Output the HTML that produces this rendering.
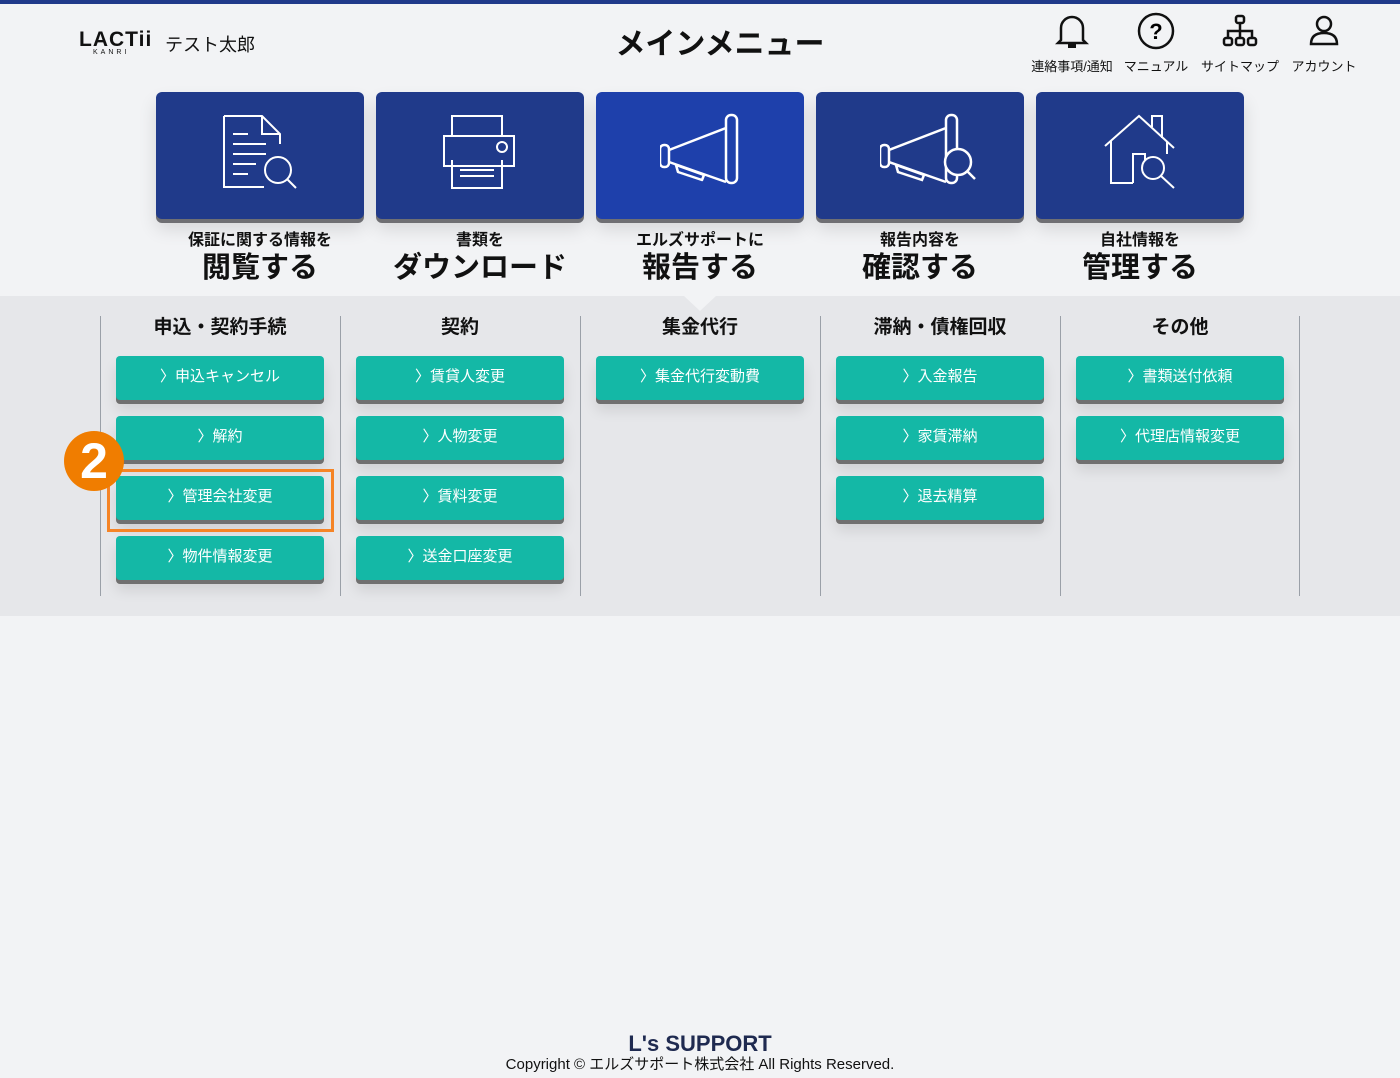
<!DOCTYPE html>
<html><head><meta charset="utf-8"><style>
*{margin:0;padding:0;box-sizing:border-box}
body{width:1400px;height:1078px;background:#f2f3f5;font-family:"Liberation Sans","Noto Sans CJK JP",sans-serif;position:relative;overflow:hidden;color:#111}
.a{position:absolute}
.card{position:absolute;top:92px;width:208px;height:127px;background:#203a8a;border-radius:6px;box-shadow:0 4px 0 #6f6f73,0 10px 18px rgba(0,0,0,.12)}
.card svg{position:absolute;left:64px;top:20px}
.lab{position:absolute;top:230px;width:208px;text-align:center;font-weight:bold}
.lab .s{font-size:16px;line-height:22px;display:block}
.lab .b{font-size:29px;line-height:32px;display:block}
.col{position:absolute;top:316px;height:280px;border-left:1px solid #9aa0a8}
.h{position:absolute;top:315px;width:240px;text-align:center;font-weight:bold;font-size:19px;line-height:26px}
.btn{position:absolute;width:208px;height:44px;background:#14b8a6;border-radius:4px;color:#fff;font-size:15px;line-height:42px;text-align:center;box-shadow:0 4px 0 #707070,0 10px 14px rgba(0,0,0,.1)}
.ic{position:absolute;top:12px;width:84px;text-align:center;font-size:13px}
.ic span{display:block;margin-top:3px;white-space:nowrap}
</style></head><body>
<div class="a" style="left:0;top:0;width:1400px;height:4px;background:#203a8a"></div>
<div class="a" style="left:79px;top:28px;font-size:21px;letter-spacing:1px;line-height:24px;font-weight:bold">LACTii</div>
<div class="a" style="left:93px;top:49px;font-size:7px;letter-spacing:3px">KANRI</div>
<div class="a" style="left:165px;top:31px;font-size:18px">テスト太郎</div>
<div class="a" style="left:570px;top:19px;width:300px;text-align:center;font-size:30px;font-weight:bold">メインメニュー</div>

<div class="ic" style="left:1030px"><svg width="34" height="38" viewBox="0 0 34 38" fill="none" stroke="#111" stroke-width="2.5"><path d="M6 28 V16 a11 11 0 0 1 22 0 V28 l3 3 H3z"/><path d="M13 34 h8" stroke-width="4"/></svg><span>連絡事項/通知</span></div>
<div class="ic" style="left:1114px"><svg width="38" height="38" viewBox="0 0 38 38"><circle cx="19" cy="19" r="17" fill="none" stroke="#111" stroke-width="2.5"/><text x="19" y="27" text-anchor="middle" font-size="22" font-weight="bold" font-family="Liberation Sans">?</text></svg><span>マニュアル</span></div>
<div class="ic" style="left:1198px"><svg width="38" height="38" viewBox="0 0 38 38" fill="none" stroke="#111" stroke-width="2.5"><rect x="15" y="4" width="8" height="7" rx="2"/><rect x="3" y="26" width="8" height="7" rx="2"/><rect x="15" y="26" width="8" height="7" rx="2"/><rect x="27" y="26" width="8" height="7" rx="2"/><path d="M19 11v15M7 26v-7h24v7"/></svg><span>サイトマップ</span></div>
<div class="ic" style="left:1282px"><svg width="38" height="38" viewBox="0 0 38 38" fill="none" stroke="#111" stroke-width="2.5"><circle cx="19" cy="12" r="7"/><path d="M6 32 q0-11 13-11 q13 0 13 11z"/></svg><span>アカウント</span></div>

<div class="card" style="left:156px"><svg width="80" height="80" viewBox="0 0 80 80" fill="none" stroke="#fff" stroke-width="2"><path d="M4 4h38l18 18v10M4 4v71h40"/><path d="M42 4v18h18"/><path d="M13 22h15M13 32h33M13 42h33M13 52h23M13 62h15"/><circle cx="58" cy="58" r="13"/><path d="M67 67l9 9"/></svg></div>
<div class="card" style="left:376px"><svg width="80" height="80" viewBox="0 0 80 80" fill="none" stroke="#fff" stroke-width="2"><path d="M12 4h50v20H12z"/><path d="M4 24h70v30H4z"/><circle cx="62" cy="35" r="5"/><path d="M12 48v28h50V48M20 58h34M20 64h34"/></svg></div>
<div class="card" style="left:596px;background:#1e40ab"><svg width="90" height="80" viewBox="0 0 90 80" fill="none" stroke="#fff" stroke-width="2.5"><rect x="66" y="3" width="11" height="68" rx="5"/><rect x="0" y="33" width="9" height="22" rx="4"/><path d="M9 38l57-22M9 50l57 20"/><path d="M16 53l28 10 -2 5 -24-8z" stroke-linejoin="round"/></svg></div>
<div class="card" style="left:816px"><svg width="100" height="80" viewBox="0 0 100 80" fill="none" stroke="#fff" stroke-width="2.5"><rect x="66" y="3" width="11" height="68" rx="5"/><rect x="0" y="33" width="9" height="22" rx="4"/><path d="M9 38l57-22M9 50l57 20"/><path d="M16 53l28 10 -2 5 -24-8z"/><circle cx="78" cy="50" r="13" fill="#203a8a"/><path d="M87 59l8 8"/></svg></div>
<div class="card" style="left:1036px"><svg width="80" height="80" viewBox="0 0 80 80" fill="none" stroke="#fff" stroke-width="2"><path d="M5 34L39 4l35 32"/><path d="M52 15V4h10v22"/><path d="M11 29v42h22M67 30v12"/><path d="M33 71V42h12v6"/><circle cx="53" cy="56" r="11"/><path d="M61 64l13 12"/></svg></div>

<div class="lab" style="left:156px"><span class="s">保証に関する情報を</span><span class="b">閲覧する</span></div>
<div class="lab" style="left:376px"><span class="s">書類を</span><span class="b">ダウンロード</span></div>
<div class="lab" style="left:596px"><span class="s">エルズサポートに</span><span class="b">報告する</span></div>
<div class="lab" style="left:816px"><span class="s">報告内容を</span><span class="b">確認する</span></div>
<div class="lab" style="left:1036px"><span class="s">自社情報を</span><span class="b">管理する</span></div>

<div class="a" style="left:0;top:296px;width:1400px;height:320px;background:#e6e7ea"></div>
<div class="a" style="left:684px;top:296px;width:0;height:0;border-left:16px solid transparent;border-right:16px solid transparent;border-top:15px solid #f2f3f5"></div>

<div class="col" style="left:100px"></div><div class="col" style="left:340px"></div><div class="col" style="left:580px"></div><div class="col" style="left:820px"></div><div class="col" style="left:1060px"></div><div class="col" style="left:1299px"></div>
<div class="h" style="left:100px">申込・契約手続</div>
<div class="h" style="left:340px">契約</div>
<div class="h" style="left:580px">集金代行</div>
<div class="h" style="left:820px">滞納・債権回収</div>
<div class="h" style="left:1060px">その他</div>

<div class="btn" style="left:116px;top:356px">〉申込キャンセル</div>
<div class="btn" style="left:116px;top:416px">〉解約</div>
<div class="btn" style="left:116px;top:476px">〉管理会社変更</div>
<div class="btn" style="left:116px;top:536px">〉物件情報変更</div>
<div class="btn" style="left:356px;top:356px">〉賃貸人変更</div>
<div class="btn" style="left:356px;top:416px">〉人物変更</div>
<div class="btn" style="left:356px;top:476px">〉賃料変更</div>
<div class="btn" style="left:356px;top:536px">〉送金口座変更</div>
<div class="btn" style="left:596px;top:356px">〉集金代行変動費</div>
<div class="btn" style="left:836px;top:356px">〉入金報告</div>
<div class="btn" style="left:836px;top:416px">〉家賃滞納</div>
<div class="btn" style="left:836px;top:476px">〉退去精算</div>
<div class="btn" style="left:1076px;top:356px">〉書類送付依頼</div>
<div class="btn" style="left:1076px;top:416px">〉代理店情報変更</div>

<div class="a" style="left:107px;top:469px;width:227px;height:63px;border:3px solid #f58426"></div>
<div class="a" style="left:64px;top:431px;width:60px;height:60px;border-radius:50%;background:#f07d00;color:#fff;font-size:50px;font-weight:bold;text-align:center;line-height:60px">2</div>

<div class="a" style="left:600px;top:1031px;width:200px;text-align:center;font-size:22px;font-weight:bold;color:#1f2a50;line-height:26px">L's SUPPORT</div>
<div class="a" style="left:400px;top:1053px;width:600px;text-align:center;font-size:15px">Copyright © エルズサポート株式会社 All Rights Reserved.</div>
</body></html>
